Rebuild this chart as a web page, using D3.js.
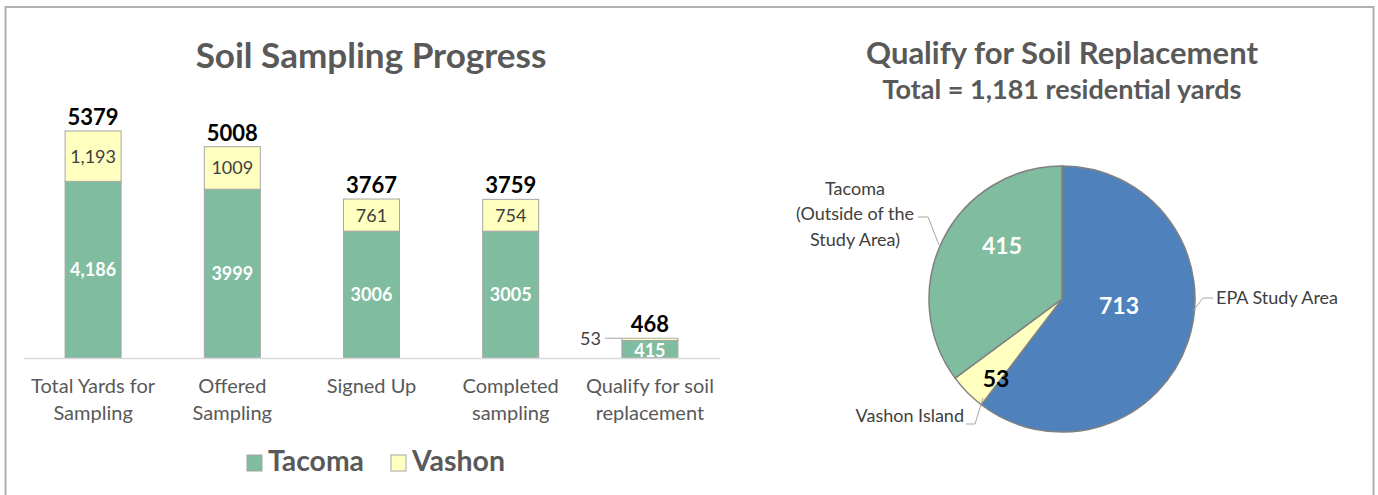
<!DOCTYPE html>
<html><head><meta charset="utf-8">
<script src="https://cdn.jsdelivr.net/npm/d3@7"></script>
<style>
html,body{margin:0;padding:0;background:#fff;}
svg{display:block;font-family:Lato,"Open Sans",sans-serif;}
</style></head>
<body>
<svg id="chart" width="1378" height="495"></svg>
<script>
// ---------- data ----------
const categories = ["Total Yards for Sampling", "Offered Sampling", "Signed Up", "Completed sampling", "Qualify for soil replacement"];
const categoryLines = [["Total Yards for", "Sampling"], ["Offered", "Sampling"], ["Signed Up"], ["Completed", "sampling"], ["Qualify for soil", "replacement"]];
const tacoma = [4186, 3999, 3006, 3005, 415];
const vashon = [1193, 1009, 761, 754, 53];
const tacomaLabels = ["4,186", "3999", "3006", "3005", "415"];
const vashonLabels = ["1,193", "1009", "761", "754", "53"];
const totals = [5379, 5008, 3767, 3759, 468];
const seriesNames = ["Tacoma", "Vashon"];

const pieNames = ["EPA Study Area", "Vashon Island", "Tacoma (Outside of the Study Area)"];
const pieValues = [713, 53, 415];

// ---------- style ----------
const GREEN = "#80BC9F", YELLOW = "#FFFFC0", BLUE = "#4F81BD";
const TXT = "#595959";

const svg = d3.select("#chart");

// outer border
svg.append("rect").attr("x", 5.5).attr("y", 7).attr("width", 1368).attr("height", 500)
  .attr("fill", "none").attr("stroke", "#b0b0b0").attr("stroke-width", 2);

function fit(sel, w) {
  const n = sel.node();
  const fs = parseFloat(sel.attr("font-size"));
  const cur = n.getComputedTextLength();
  sel.attr("font-size", (fs * w / cur).toFixed(2));
}

// ---------- bar chart ----------
const x = d3.scaleBand().domain(categories).range([23.5, 719.5]).paddingInner(0.4029).paddingOuter(0.2014);
const y = d3.scaleLinear().domain([0, 6000]).range([358, 104.8]);

const bw = 56;
const bars = svg.append("g");
categories.forEach((c, i) => {
  const cx = x(c) + x.bandwidth() / 2;
  const x0 = cx - bw / 2;
  bars.append("rect").attr("x", x0).attr("width", bw)
    .attr("y", y(tacoma[i])).attr("height", y(0) - y(tacoma[i]))
    .attr("fill", GREEN).attr("stroke", "#a6a6a6").attr("stroke-width", 1);
  bars.append("rect").attr("x", x0).attr("width", bw)
    .attr("y", y(tacoma[i] + vashon[i])).attr("height", y(tacoma[i]) - y(tacoma[i] + vashon[i]))
    .attr("fill", YELLOW).attr("stroke", "#a6a6a6").attr("stroke-width", 1);
});

// axis baseline
const ax = svg.append("g").attr("transform", `translate(0,${y(0)})`)
  .call(d3.axisBottom(x).tickSize(0).tickFormat(""));
ax.select(".domain").attr("stroke", "#d9d9d9").attr("stroke-width", 1.5);

// labels
categories.forEach((c, i) => {
  const cx = x(c) + x.bandwidth() / 2;
  const tTop = y(tacoma[i]);
  const tMid = (y(0) + tTop) / 2;
  svg.append("text").attr("x", cx).attr("y", i === 4 ? tMid + 1 : tMid).attr("dy", "0.36em")
    .attr("text-anchor", "middle").attr("fill", "#fff").attr("font-weight", 700)
    .attr("font-size", 18).text(tacomaLabels[i]);
  const vTop = y(tacoma[i] + vashon[i]);
  if (i < 4) {
    svg.append("text").attr("x", cx).attr("y", (vTop + tTop) / 2).attr("dy", "0.36em")
      .attr("text-anchor", "middle").attr("fill", "#404040")
      .attr("font-size", 18).text(vashonLabels[i]);
  } else {
    svg.append("text").attr("x", cx - bw / 2 - 21).attr("y", vTop).attr("dy", "0.36em")
      .attr("text-anchor", "end").attr("fill", "#404040")
      .attr("font-size", 18).text(vashonLabels[i]);
    svg.append("line").attr("x1", cx - bw / 2 - 17).attr("x2", cx - bw / 2).attr("y1", vTop).attr("y2", vTop)
      .attr("stroke", "#a6a6a6").attr("stroke-width", 1);
  }
  svg.append("text").attr("x", cx).attr("y", vTop - 6)
    .attr("text-anchor", "middle").attr("fill", "#000").attr("font-weight", 700)
    .attr("font-size", 22).text(totals[i]);
  categoryLines[i].forEach((ln, k) => {
    svg.append("text").attr("x", cx).attr("y", 393 + k * 27)
      .attr("text-anchor", "middle").attr("fill", TXT)
      .attr("font-size", 20).text(ln);
  });
});

// bar title
fit(svg.append("text").attr("x", 371).attr("y", 68).attr("text-anchor", "middle")
  .attr("fill", TXT).attr("font-weight", 700).attr("font-size", 30).text("Soil Sampling Progress"), 351);

// legend
const lg = svg.append("g");
[[247, GREEN, seriesNames[0]], [391, YELLOW, seriesNames[1]]].forEach(([lx, col, name]) => {
  lg.append("rect").attr("x", lx).attr("y", 455).attr("width", 15).attr("height", 16)
    .attr("fill", col).attr("stroke", "#a6a6a6");
  fit(lg.append("text").attr("x", lx + 21).attr("y", 471).attr("fill", TXT)
    .attr("font-weight", 700).attr("font-size", 22).text(name), name === "Tacoma" ? 96 : 93);
});

// ---------- pie ----------
const pcx = 1062, pcy = 299, R = 133;
const pieColors = [BLUE, YELLOW, GREEN];
const pie = d3.pie().sort(null).value(d => d)(pieValues);
const arc = d3.arc().innerRadius(0).outerRadius(R);
const pg = svg.append("g").attr("transform", `translate(${pcx},${pcy})`);
pg.selectAll("path").data(pie).join("path")
  .attr("d", arc).attr("fill", (d, i) => pieColors[i])
  .attr("stroke", "#808080").attr("stroke-width", 1.5).attr("stroke-linejoin", "round");

// inner value labels
const innerPos = [[57, 7], [-66, 80], [-60, -53]];
const innerCol = ["#fff", "#000", "#fff"];
pie.forEach((d, i) => {
  pg.append("text").attr("x", innerPos[i][0]).attr("y", innerPos[i][1]).attr("dy", "0.36em")
    .attr("text-anchor", "middle").attr("fill", innerCol[i]).attr("font-weight", 700)
    .attr("font-size", 23).text(d.value);
});

// outside labels with leader lines
function leader(pts) {
  svg.append("path").attr("d", d3.line()(pts)).attr("fill", "none")
    .attr("stroke", "#a6a6a6").attr("stroke-width", 1);
}
svg.append("text").attr("x", 1216).attr("y", 298).attr("dy", "0.36em").attr("fill", "#404040")
  .attr("font-size", 18).text(pieNames[0]);
leader([[1193, 311], [1203, 298], [1213, 298]]);
svg.append("text").attr("x", 964).attr("y", 416).attr("dy", "0.36em").attr("text-anchor", "end")
  .attr("fill", "#404040").attr("font-size", 18).text(pieNames[1]);
leader([[966, 424], [975, 424], [983, 398]]);
[["Tacoma", 189], ["(Outside of the", 214], ["Study Area)", 240]].forEach(([t, ty]) => {
  svg.append("text").attr("x", 855).attr("y", ty).attr("dy", "0.36em").attr("text-anchor", "middle")
    .attr("fill", "#404040").attr("font-size", 18).text(t);
});
leader([[918, 217], [928, 217], [939, 245]]);

// pie titles
fit(svg.append("text").attr("x", 1062).attr("y", 64).attr("text-anchor", "middle")
  .attr("fill", TXT).attr("font-weight", 700).attr("font-size", 27).text("Qualify for Soil Replacement"), 392);
fit(svg.append("text").attr("x", 1062).attr("y", 99).attr("text-anchor", "middle")
  .attr("fill", TXT).attr("font-weight", 700).attr("font-size", 21).text("Total = 1,181 residential yards"), 359);
</script>
</body></html>
